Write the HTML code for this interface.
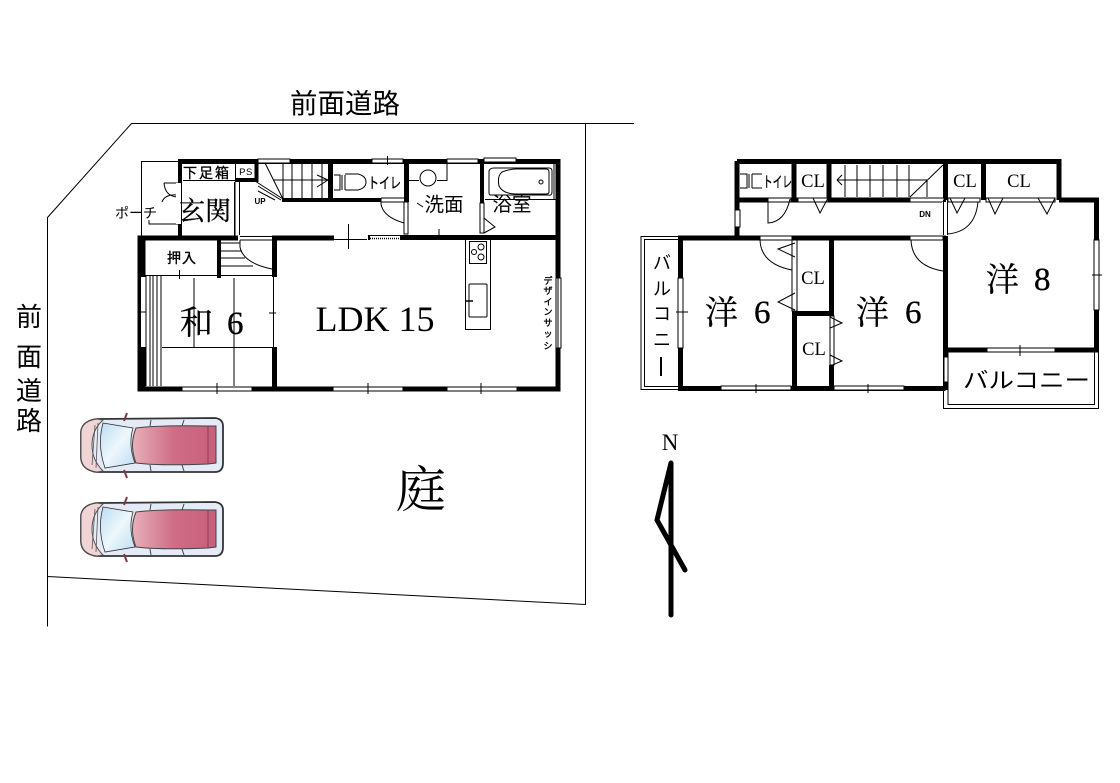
<!DOCTYPE html>
<html><head><meta charset="utf-8"><style>
html,body{margin:0;padding:0;background:#fff;width:1120px;height:783px;overflow:hidden}
svg{display:block}
text{fill:#000}
.s{font-family:"Liberation Serif","Noto Serif CJK SC",serif}
.m{font-family:"Noto Serif CJK SC",serif}
.g{font-family:"Liberation Sans","Noto Sans CJK JP",sans-serif}
.j{font-family:"Noto Sans CJK JP",sans-serif}
.h{stroke:#000;stroke-width:.35}
.t{stroke:#000;stroke-width:1;fill:none}
.w{stroke:#000;stroke-width:5;fill:none}
.win{fill:#fff;stroke:#000;stroke-width:1}
</style></head><body>
<svg width="1120" height="783" viewBox="0 0 1120 783" xmlns="http://www.w3.org/2000/svg">
<defs>
<linearGradient id="rf" x1="0" x2="1" y1="0" y2="0"><stop offset="0" stop-color="#e8b0ba"/><stop offset=".5" stop-color="#cf6c86"/><stop offset="1" stop-color="#c85f7c"/></linearGradient>
<linearGradient id="gl" x1="0" x2="1" y1="0" y2="1"><stop offset="0" stop-color="#bcdcf2"/><stop offset=".5" stop-color="#eef7fc"/><stop offset="1" stop-color="#bcdcf2"/></linearGradient>
<g id="car">
<path d="M81 432 Q82 421 97 419 L215 418 Q223 419 223 426 L223 463 Q223 472 215 472 L97 472 Q82 470 81 458 Z" fill="#e4eaf6" stroke="#333" stroke-width="1.8"/>
<path d="M81 432 Q82 421 97 419 L103 420 Q92 430 92 445 Q92 460 103 471 L97 472 Q82 470 81 458 Z" fill="#f0d4d6" stroke="#555" stroke-width="1"/>
<path d="M103 423 L133 428 Q128 445 135 463 L105 468 Q97 445 103 423 Z" fill="url(#gl)" stroke="#333" stroke-width=".8"/>
<path d="M136 428 Q160 425 208 426 L216 426 L216 463 L208 464 Q160 466 136 463 Q129 445 136 428 Z" fill="url(#rf)" stroke="#444" stroke-width="1"/>
<path d="M208 426 L208 464" stroke="#8a3a55" stroke-width="1" fill="none"/>
<path d="M95 425 L92 465 M98 423 L96 468" stroke="#555" stroke-width=".8" fill="none"/>
<path d="M124 421 L127 413 M124 470 L127 478" stroke="#7a3a4a" stroke-width="2" fill="none"/>
<path d="M150 426 L151 420 M150 465 L151 471 M182 426 L184 420 M182 465 L184 471" stroke="#444" stroke-width="1"/>
</g>
</defs>

<!-- site -->
<path class="t" d="M634 123.500H131.500L47.500 217.500V626.500M47.500 576.500L585.500 604.500V123.500"/>
<text x="345" y="113" class="j" font-size="27.500" text-anchor="middle">前面道路</text>
<g class="j" font-size="26" text-anchor="middle"><text x="29" y="326">前</text><text x="29" y="366">面</text><text x="29" y="400">道</text><text x="29" y="430">路</text></g>

<!-- porch -->
<path class="t" d="M141.500 236V161.500H178M164 183H178M164 183Q165 196 177 197M177 195Q165 194 162 202M149 220V224H178"/>
<text x="115" y="218" class="j" font-size="14" textLength="42" lengthAdjust="spacingAndGlyphs">ポーチ</text>

<!-- ground floor walls -->
<path class="w" d="M178 161.500H558V389H140V238H334M143 238V389M558 161V389M274.500 238V389"/>
<rect x="178" y="160" width="4" height="76"/>
<rect x="176" y="183" width="7" height="41" fill="#fff"/>
<path class="t" d="M181.500 183V224"/>
<path d="M256.500 162V180H235" stroke="#000" stroke-width="4" fill="none"/>
<path class="t" d="M183 180.500H235M235 182V236M239.500 182V237M234.500 182V237M235.500 162V180"/>
<text x="206" y="178" class="j h" font-size="14" textLength="46" lengthAdjust="spacing" dx="-23">下足箱</text>
<text x="246" y="175" class="g" font-size="9.500" text-anchor="middle" letter-spacing=".5">PS</text>
<text x="205" y="220" class="m h" font-size="26" text-anchor="middle">玄関</text>
<text x="260" y="204" class="g" font-size="8" text-anchor="middle" font-weight="bold">UP</text>

<!-- stairs up -->
<rect x="258" y="159" width="32" height="4" class="win"/>
<path class="t" d="M265 163L283 199M255 181L283 199M258 186L281 200M258 191L275 200M273 180H329M283 163V199M292 163V199M302 163V199M312 163V199M322 163V199M317 175L328 180L317 187"/>
<rect x="282" y="198" width="99" height="4"/>
<rect x="328" y="161" width="5" height="41"/>

<!-- toilet -->
<path class="t" d="M334 175H340V190H334M342 175V190M345 175V190M345 174H358Q366 176 366 182Q366 188 358 190H345"/>
<text x="368" y="188" class="j h" font-size="15" textLength="33" lengthAdjust="spacingAndGlyphs">トイレ</text>
<rect x="372" y="159" width="31" height="4" class="win"/>
<path class="t" d="M387.500 156V165"/>
<rect x="404" y="161" width="5" height="41"/>
<path class="t" d="M381 198V204Q383 217 404 223M381 198H404M381 202H404"/>
<rect x="404" y="202" width="4" height="32" class="win"/>

<!-- wash -->
<path class="t" d="M409 180.500H419M437 180.500H447V163"/>
<circle cx="428" cy="178" r="8" class="t"/>
<path class="t" d="M417 203L423 207"/>
<text x="444" y="211" class="j" font-size="19.500" text-anchor="middle">洗面</text>
<rect x="447" y="159" width="31" height="4" class="win"/>
<rect x="480" y="160" width="4" height="43"/>
<path class="t" d="M485 199.500H556M554 162V199"/>
<rect x="484" y="158" width="32" height="4" class="win"/>
<path class="t" d="M489 171Q490 168 494 168H549Q552 168 552 171V192Q552 196 548 195L490 195Q489 195 489 192Z"/>
<path class="t" d="M502 172Q510 169 516 169H546Q549 169 549 172V192Q549 194 546 194H516Q503 194 499 186Q497 176 502 172Z"/>
<circle cx="541" cy="182" r="2" class="t"/>
<text x="512" y="211" class="j" font-size="19.500" text-anchor="middle">浴室</text>
<rect x="480" y="203" width="4" height="30" class="win"/>
<path class="t" d="M484 218L495 227L484 233"/>
<path class="t" d="M439 229V236"/>

<!-- wall between wash & LDK -->
<rect x="367" y="235" width="190" height="5"/>
<rect x="370" y="236" width="30" height="4" fill="#fff"/>
<path d="M370 238.500H400" stroke="#000" stroke-width="1.500" stroke-dasharray="1 1"/>
<rect x="334" y="235" width="34" height="6" fill="#fff"/>
<path class="t" d="M334 239.500H367M348.500 224V249"/>

<!-- oshiire / japanese -->
<path class="t" d="M141 275.500H272M179.500 270V279M175 275.500H185"/>
<text x="182" y="263" class="j h" font-size="14" text-anchor="middle" letter-spacing="1">押入</text>
<rect x="217" y="238" width="4" height="40"/>
<rect x="238" y="235" width="34" height="6" fill="#fff"/>
<path class="t" d="M221 243H240M221 251H242M221 258H245M221 266H253M240 236.500H272M240 240H272"/>
<path class="t" d="M240 240V247Q243 263 272 269"/>
<rect x="272" y="277" width="6" height="70" fill="#fff"/>
<path class="t" d="M273.500 277V347M269 313H276"/>
<rect x="141" y="277" width="5" height="70" fill="#fff"/>
<path class="t" d="M140.500 277V347M146 275V386M150 276V386M153 276V386M157 276V386M161 275V386M138 312H146M194 278V347M234 278V386M162 347.500H274"/>
<rect x="182" y="387" width="70" height="4" class="win"/>
<path class="t" d="M217 383V394"/>
<rect x="333" y="387" width="70" height="4" class="win"/>
<rect x="447" y="387" width="70" height="4" class="win"/>
<path class="t" d="M368 383V394M481 383V394"/>
<text x="180" y="334" class="m h" font-size="33">和</text>
<text x="227" y="334" class="s h" font-size="33">6</text>
<text x="375" y="331" class="s" font-size="36" text-anchor="middle">LDK 15</text>

<!-- kitchen -->
<rect x="465.500" y="239.500" width="25" height="90" class="t"/>
<rect x="469.500" y="241.500" width="17" height="22" class="t"/>
<circle cx="481" cy="247" r="3" class="t"/><circle cx="474" cy="252" r="2.500" class="t"/><circle cx="481" cy="257" r="3" class="t"/>
<rect x="469" y="284" width="18" height="33" rx="1" class="t"/>
<path d="M466 301H473" stroke="#000" stroke-width="1.500"/>
<rect x="556" y="278" width="5" height="70" class="win"/>
<path class="t" d="M558 278V348"/>
<g class="j h" font-size="9" text-anchor="middle"><text x="548" y="284">デ</text><text x="548" y="294">ザ</text><text x="548" y="305">イ</text><text x="548" y="315">ン</text><text x="548" y="326">サ</text><text x="548" y="337">ッ</text><text x="548" y="349">シ</text></g>
<text x="421" y="507" class="m" font-size="50" text-anchor="middle">庭</text>

<!-- cars -->
<use href="#car"/>
<use href="#car" y="84"/>

<!-- north -->
<text x="670" y="450" class="s" font-size="23" text-anchor="middle">N</text>
<path d="M671 463V615M671 463L657 520L685 570" stroke="#000" stroke-width="5" fill="none" stroke-linecap="round"/>

<!-- upper floor -->
<path class="w" d="M737 161.500H1059V200M737 161V236M737 200H946M678 238H946M680.500 236V389M678 388.500H945.500M945.500 236V390M1059 200H1096.500V350H945M945.500 161V200"/>
<path class="w" d="M794 161V200M829 161V200M983.500 161V200"/>
<rect x="735" y="210" width="5" height="17" class="win"/>

<!-- balconies -->
<path class="t" d="M678 236.500H641V389.500H678M678 239.500H644.500V386.500H678"/>
<g class="j" font-size="18" text-anchor="middle"><text x="662" y="269">バ</text><text x="662" y="295">ル</text><text x="662" y="320">コ</text><text x="662" y="346">ニ</text></g>
<rect x="660" y="357" width="2" height="19"/>
<rect x="678" y="278" width="5" height="70" class="win"/>
<path class="t" d="M676 312H688"/>
<path class="t" d="M943.500 390V408.500H1098.500V352M948 352V404.500H1094.500V352"/>
<rect x="944" y="357" width="4" height="25" class="win"/>
<text x="963" y="388" class="j" font-size="22" textLength="127" lengthAdjust="spacingAndGlyphs">バルコニー</text>
<rect x="987" y="348" width="68" height="4" class="win"/><path class="t" d="M1020 345V356"/>

<!-- toilet upper -->
<path class="t" d="M740 174H747V188H740M749 174V188M752 174V188M752 174H762M752 188H762"/>
<text x="763" y="187" class="j h" font-size="15" textLength="29" lengthAdjust="spacingAndGlyphs">トイレ</text>
<rect x="768" y="198" width="23" height="4" class="win"/>
<path class="t" d="M768 198V223Q785 222 790 199"/>
<rect x="798" y="198" width="30" height="4" class="win"/>
<path class="t" d="M813 198L820 213L828 198"/>
<g class="s" font-size="18.500" text-anchor="middle"><text x="813" y="187">CL</text><text x="813" y="284">CL</text><text x="814" y="355">CL</text><text x="965" y="187">CL</text><text x="1019" y="187">CL</text></g>

<!-- stairs upper -->
<path class="t" d="M837 180H927M837 180L842 175M837 180L842 185M845 165V197M857 165V197M870 165V197M883 165V197M897 165V197M909 165V197M927 180V197M910 197L943 165"/>
<rect x="910" y="198" width="34" height="4" class="win"/>
<text x="925" y="217" class="g" font-size="8" text-anchor="middle" font-weight="bold">DN</text>

<!-- doors upper -->
<rect x="760" y="236" width="32" height="4" class="win"/>
<path class="t" d="M760 240Q761 264 792 270"/>
<rect x="792" y="240" width="5" height="71" class="win"/>
<path class="t" d="M795 243L778 249L795 257M795 293L778 302L795 310"/>
<rect x="792" y="311" width="41" height="5"/>
<rect x="792" y="316" width="5" height="73"/>
<rect x="829" y="238" width="5" height="78"/>
<rect x="830" y="316" width="4" height="49" class="win"/>
<rect x="829" y="365" width="5" height="24"/>
<path class="t" d="M830 317L842 323L830 328M830 355L842 361L830 366"/>
<rect x="721" y="386" width="70" height="4" class="win"/>
<rect x="834" y="386" width="70" height="4" class="win"/>
<path class="t" d="M756 384V393M868 384V393"/>
<rect x="910" y="236" width="33" height="4" class="win"/>
<path class="t" d="M911 240Q912 266 943 271"/>
<rect x="942" y="202" width="7" height="33" fill="#fff"/>
<path class="t" d="M943.500 200V235M947.500 200V235M947 234Q975 232 978 202"/>
<rect x="948" y="198" width="32" height="4" class="win"/>
<path class="t" d="M950 198L957 213L965 198"/>
<rect x="986" y="198" width="69" height="4" class="win"/>
<path class="t" d="M988 198L995 214L1003 198M1038 198L1047 214L1055 198"/>
<rect x="1094" y="240" width="5" height="70" class="win"/>
<path class="t" d="M1092 275H1102"/>
<text x="986" y="291" class="m h" font-size="33">洋</text>
<text x="1034" y="290" class="s h" font-size="33">8</text>
<text x="705" y="324" class="m h" font-size="33">洋</text>
<text x="754" y="323" class="s h" font-size="33">6</text>
<text x="856" y="324" class="m h" font-size="33">洋</text>
<text x="905" y="323" class="s h" font-size="33">6</text>
</svg>
</body></html>
